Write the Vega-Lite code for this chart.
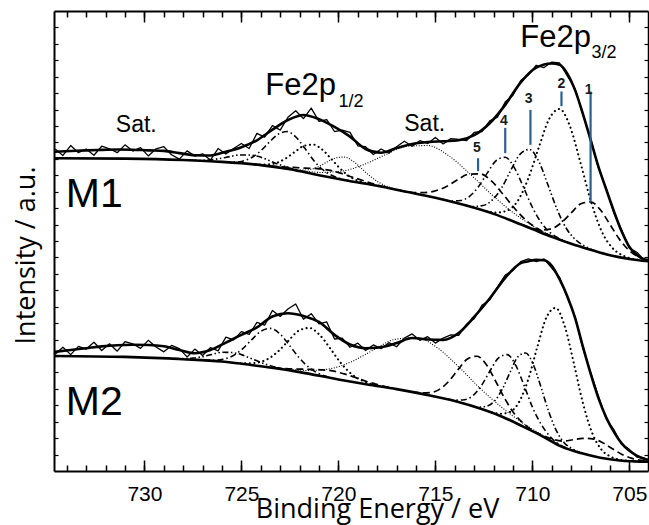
{
  "$schema": "https://vega.github.io/schema/vega-lite/v6.json",
  "width": 594,
  "height": 460,
  "autosize": {"type": "none"},
  "padding": {"left": 54, "top": 11, "right": 1, "bottom": 54},
  "background": "white",
  "config": {
    "view": {"stroke": null},
    "axis": {"grid": false, "domainColor": "black", "tickColor": "black", "labelColor": "black", "titleColor": "black"}
  },
  "datasets": {
    "raw": [
      {"s":"M1","E":734.6,"I":70.0},{"s":"M1","E":734.2,"I":68.6},{"s":"M1","E":733.8,"I":70.75},{"s":"M1","E":733.4,"I":69.2},{"s":"M1","E":733.0,"I":70.0},{"s":"M1","E":732.6,"I":68.65},{"s":"M1","E":732.2,"I":70.6},{"s":"M1","E":731.8,"I":70.05},{"s":"M1","E":731.4,"I":69.2},{"s":"M1","E":731.0,"I":70.9},{"s":"M1","E":730.6,"I":69.55},{"s":"M1","E":730.2,"I":70.3},{"s":"M1","E":729.8,"I":68.5},{"s":"M1","E":729.4,"I":70.05},{"s":"M1","E":729.0,"I":70.5},{"s":"M1","E":728.6,"I":68.75},{"s":"M1","E":728.2,"I":67.8},{"s":"M1","E":727.8,"I":69.6},{"s":"M1","E":727.4,"I":68.45},{"s":"M1","E":727.0,"I":68.95},{"s":"M1","E":726.6,"I":67.6},{"s":"M1","E":726.2,"I":70.1},{"s":"M1","E":725.8,"I":68.9},{"s":"M1","E":725.4,"I":70.1},{"s":"M1","E":725.0,"I":71.2},{"s":"M1","E":724.6,"I":70.1},{"s":"M1","E":724.2,"I":73.4},{"s":"M1","E":723.8,"I":72.6},{"s":"M1","E":723.4,"I":75.1},{"s":"M1","E":723.0,"I":74.1},{"s":"M1","E":722.6,"I":76.9},{"s":"M1","E":722.2,"I":78.3},{"s":"M1","E":721.8,"I":76.6},{"s":"M1","E":721.4,"I":78.9},{"s":"M1","E":721.0,"I":76.0},{"s":"M1","E":720.6,"I":76.4},{"s":"M1","E":720.2,"I":73.8},{"s":"M1","E":719.8,"I":74.1},{"s":"M1","E":719.4,"I":73.6},{"s":"M1","E":719.0,"I":70.7},{"s":"M1","E":718.6,"I":70.5},{"s":"M1","E":718.2,"I":68.8},{"s":"M1","E":717.8,"I":70.0},{"s":"M1","E":717.4,"I":69.1},{"s":"M1","E":717.0,"I":70.5},{"s":"M1","E":716.6,"I":71.7},{"s":"M1","E":716.2,"I":70.6},{"s":"M1","E":715.8,"I":71.8},{"s":"M1","E":715.4,"I":71.2},{"s":"M1","E":715.0,"I":72.5},{"s":"M1","E":714.6,"I":71.1},{"s":"M1","E":714.2,"I":72.25},{"s":"M1","E":713.8,"I":72.1},{"s":"M1","E":713.4,"I":71.8},{"s":"M1","E":713.0,"I":73.6},{"s":"M1","E":712.6,"I":73.8},{"s":"M1","E":712.2,"I":76.1},{"s":"M1","E":711.8,"I":76.9},{"s":"M1","E":711.4,"I":80.2},{"s":"M1","E":711.0,"I":81.7},{"s":"M1","E":710.6,"I":84.9},{"s":"M1","E":710.2,"I":86.1},{"s":"M1","E":709.8,"I":88.2},{"s":"M1","E":709.4,"I":87.7},{"s":"M1","E":709.0,"I":88.9},{"s":"M1","E":708.6,"I":88.7},{"s":"M1","E":708.2,"I":85.9},{"s":"M1","E":707.8,"I":83.1},{"s":"M1","E":707.4,"I":77.5},{"s":"M1","E":707.0,"I":72.4},{"s":"M1","E":706.6,"I":65.9},{"s":"M1","E":706.2,"I":61.5},{"s":"M1","E":705.8,"I":56.1},{"s":"M1","E":705.4,"I":52.4},{"s":"M1","E":705.0,"I":48.5},{"s":"M1","E":704.6,"I":47.5},{"s":"M1","E":704.2,"I":45.7},
      {"s":"M2","E":734.6,"I":25.4},{"s":"M2","E":734.2,"I":26.9},{"s":"M2","E":733.8,"I":25.3},{"s":"M2","E":733.4,"I":27.1},{"s":"M2","E":733.0,"I":26.5},{"s":"M2","E":732.6,"I":28.0},{"s":"M2","E":732.2,"I":26.2},{"s":"M2","E":731.8,"I":27.65},{"s":"M2","E":731.4,"I":26.05},{"s":"M2","E":731.0,"I":28.1},{"s":"M2","E":730.6,"I":27.65},{"s":"M2","E":730.2,"I":26.65},{"s":"M2","E":729.8,"I":28.4},{"s":"M2","E":729.4,"I":26.95},{"s":"M2","E":729.0,"I":25.9},{"s":"M2","E":728.6,"I":27.3},{"s":"M2","E":728.2,"I":26.6},{"s":"M2","E":727.8,"I":24.8},{"s":"M2","E":727.4,"I":26.5},{"s":"M2","E":727.0,"I":25.1},{"s":"M2","E":726.6,"I":26.8},{"s":"M2","E":726.2,"I":26.1},{"s":"M2","E":725.8,"I":29.1},{"s":"M2","E":725.4,"I":28.5},{"s":"M2","E":725.0,"I":30.3},{"s":"M2","E":724.6,"I":29.7},{"s":"M2","E":724.2,"I":32.3},{"s":"M2","E":723.8,"I":31.7},{"s":"M2","E":723.4,"I":34.9},{"s":"M2","E":723.0,"I":33.6},{"s":"M2","E":722.6,"I":35.2},{"s":"M2","E":722.2,"I":36.3},{"s":"M2","E":721.8,"I":33.0},{"s":"M2","E":721.4,"I":34.2},{"s":"M2","E":721.0,"I":32.0},{"s":"M2","E":720.6,"I":32.4},{"s":"M2","E":720.2,"I":28.7},{"s":"M2","E":719.8,"I":28.9},{"s":"M2","E":719.4,"I":26.9},{"s":"M2","E":719.0,"I":27.8},{"s":"M2","E":718.6,"I":26.2},{"s":"M2","E":718.2,"I":27.4},{"s":"M2","E":717.8,"I":26.6},{"s":"M2","E":717.4,"I":27.9},{"s":"M2","E":717.0,"I":27.0},{"s":"M2","E":716.6,"I":28.9},{"s":"M2","E":716.2,"I":29.8},{"s":"M2","E":715.8,"I":28.4},{"s":"M2","E":715.4,"I":29.2},{"s":"M2","E":715.0,"I":27.8},{"s":"M2","E":714.6,"I":28.9},{"s":"M2","E":714.2,"I":29.6},{"s":"M2","E":713.8,"I":29.5},{"s":"M2","E":713.4,"I":31.9},{"s":"M2","E":713.0,"I":33.1},{"s":"M2","E":712.6,"I":36.0},{"s":"M2","E":712.2,"I":37.2},{"s":"M2","E":711.8,"I":40.0},{"s":"M2","E":711.4,"I":42.6},{"s":"M2","E":711.0,"I":43.6},{"s":"M2","E":710.6,"I":45.5},{"s":"M2","E":710.2,"I":46.1},{"s":"M2","E":709.8,"I":45.5},{"s":"M2","E":709.4,"I":46.1},{"s":"M2","E":709.0,"I":44.1},{"s":"M2","E":708.6,"I":42.1},{"s":"M2","E":708.2,"I":37.7},{"s":"M2","E":707.8,"I":33.6},{"s":"M2","E":707.4,"I":26.7},{"s":"M2","E":707.0,"I":21.5},{"s":"M2","E":706.6,"I":16.3},{"s":"M2","E":706.2,"I":11.4},{"s":"M2","E":705.8,"I":9.0},{"s":"M2","E":705.4,"I":5.8},{"s":"M2","E":705.0,"I":4.7},{"s":"M2","E":704.6,"I":3.0},{"s":"M2","E":704.2,"I":2.8}
    ],
    "fit": [
      {"id":"M1bg","E":704.04,"I":45.6},{"id":"M1bg","E":705,"I":46.1},{"id":"M1bg","E":706,"I":46.9},{"id":"M1bg","E":707,"I":48.1},{"id":"M1bg","E":708,"I":49.4},{"id":"M1bg","E":709,"I":50.9},{"id":"M1bg","E":710,"I":52.6},{"id":"M1bg","E":711,"I":54.3},{"id":"M1bg","E":712,"I":55.9},{"id":"M1bg","E":713.5,"I":57.8},{"id":"M1bg","E":715,"I":59.4},{"id":"M1bg","E":716.5,"I":60.7},{"id":"M1bg","E":718,"I":62.0},{"id":"M1bg","E":719.5,"I":63.1},{"id":"M1bg","E":721,"I":64.3},{"id":"M1bg","E":722.5,"I":65.6},{"id":"M1bg","E":724,"I":66.5},{"id":"M1bg","E":726,"I":67.2},{"id":"M1bg","E":728,"I":67.6},{"id":"M1bg","E":731,"I":67.9},{"id":"M1bg","E":734.66,"I":68.0},
      {"id":"M2bg","E":704.04,"I":2.0},{"id":"M2bg","E":705.5,"I":2.3},{"id":"M2bg","E":706.5,"I":2.9},{"id":"M2bg","E":707.5,"I":3.9},{"id":"M2bg","E":708.5,"I":5.3},{"id":"M2bg","E":709.5,"I":7.6},{"id":"M2bg","E":710.5,"I":9.7},{"id":"M2bg","E":711.5,"I":11.7},{"id":"M2bg","E":712.5,"I":13.3},{"id":"M2bg","E":714,"I":15.2},{"id":"M2bg","E":715.5,"I":16.6},{"id":"M2bg","E":717,"I":17.8},{"id":"M2bg","E":718.5,"I":18.8},{"id":"M2bg","E":720,"I":19.9},{"id":"M2bg","E":722,"I":21.5},{"id":"M2bg","E":723,"I":22.2},{"id":"M2bg","E":724.4,"I":23.0},{"id":"M2bg","E":726,"I":23.8},{"id":"M2bg","E":728,"I":24.3},{"id":"M2bg","E":731,"I":24.8},{"id":"M2bg","E":734.66,"I":25.0},
      {"id":"M1env","E":734.66,"I":69.4},{"id":"M1env","E":733.8,"I":69.55},{"id":"M1env","E":733.0,"I":69.7},{"id":"M1env","E":732.2,"I":69.8},{"id":"M1env","E":731.4,"I":69.9},{"id":"M1env","E":730.6,"I":69.85},{"id":"M1env","E":729.8,"I":69.7},{"id":"M1env","E":729.0,"I":69.6},{"id":"M1env","E":728.2,"I":69.1},{"id":"M1env","E":727.4,"I":68.65},{"id":"M1env","E":726.6,"I":68.6},{"id":"M1env","E":725.8,"I":69.4},{"id":"M1env","E":725.0,"I":70.4},{"id":"M1env","E":724.2,"I":71.9},{"id":"M1env","E":723.4,"I":74.2},{"id":"M1env","E":722.6,"I":76.3},{"id":"M1env","E":721.8,"I":77.4},{"id":"M1env","E":721.0,"I":76.5},{"id":"M1env","E":720.2,"I":74.8},{"id":"M1env","E":719.4,"I":72.7},{"id":"M1env","E":718.6,"I":70.0},{"id":"M1env","E":717.8,"I":69.2},{"id":"M1env","E":717.0,"I":70.2},{"id":"M1env","E":716.2,"I":71.1},{"id":"M1env","E":715.4,"I":71.5},{"id":"M1env","E":714.6,"I":71.7},{"id":"M1env","E":713.8,"I":71.9},{"id":"M1env","E":713.0,"I":73.0},{"id":"M1env","E":712.2,"I":75.6},{"id":"M1env","E":711.4,"I":79.6},{"id":"M1env","E":710.6,"I":84.5},{"id":"M1env","E":709.8,"I":87.7},{"id":"M1env","E":709.0,"I":88.6},{"id":"M1env","E":708.6,"I":88.3},{"id":"M1env","E":708.2,"I":86.4},{"id":"M1env","E":707.8,"I":82.8},{"id":"M1env","E":707.4,"I":77.7},{"id":"M1env","E":707.0,"I":72.0},{"id":"M1env","E":706.6,"I":66.2},{"id":"M1env","E":706.2,"I":61.3},{"id":"M1env","E":705.8,"I":56.5},{"id":"M1env","E":705.4,"I":52.1},{"id":"M1env","E":705.0,"I":48.7},{"id":"M1env","E":704.6,"I":46.9},{"id":"M1env","E":704.2,"I":46.0},{"id":"M1env","E":704.04,"I":45.9},
      {"id":"M2env","E":734.66,"I":25.9},{"id":"M2env","E":733.8,"I":26.3},{"id":"M2env","E":733.0,"I":26.7},{"id":"M2env","E":732.2,"I":27.1},{"id":"M2env","E":731.4,"I":27.35},{"id":"M2env","E":730.6,"I":27.45},{"id":"M2env","E":729.8,"I":27.4},{"id":"M2env","E":729.0,"I":27.1},{"id":"M2env","E":728.2,"I":26.3},{"id":"M2env","E":727.4,"I":25.6},{"id":"M2env","E":726.6,"I":26.3},{"id":"M2env","E":725.8,"I":27.9},{"id":"M2env","E":725.0,"I":29.6},{"id":"M2env","E":724.2,"I":31.2},{"id":"M2env","E":723.4,"I":33.6},{"id":"M2env","E":722.6,"I":34.3},{"id":"M2env","E":721.8,"I":33.7},{"id":"M2env","E":721.0,"I":32.4},{"id":"M2env","E":720.2,"I":29.6},{"id":"M2env","E":719.4,"I":27.5},{"id":"M2env","E":718.6,"I":26.7},{"id":"M2env","E":717.8,"I":26.9},{"id":"M2env","E":717.0,"I":27.8},{"id":"M2env","E":716.2,"I":28.9},{"id":"M2env","E":715.4,"I":28.6},{"id":"M2env","E":714.6,"I":28.5},{"id":"M2env","E":713.8,"I":30.0},{"id":"M2env","E":713.0,"I":33.5},{"id":"M2env","E":712.2,"I":37.5},{"id":"M2env","E":711.4,"I":42.0},{"id":"M2env","E":710.6,"I":45.2},{"id":"M2env","E":710.2,"I":45.6},{"id":"M2env","E":709.8,"I":45.9},{"id":"M2env","E":709.4,"I":45.8},{"id":"M2env","E":709.0,"I":44.6},{"id":"M2env","E":708.6,"I":41.7},{"id":"M2env","E":708.2,"I":38.0},{"id":"M2env","E":707.8,"I":33.3},{"id":"M2env","E":707.4,"I":27.1},{"id":"M2env","E":707.0,"I":21.2},{"id":"M2env","E":706.6,"I":15.9},{"id":"M2env","E":706.2,"I":11.7},{"id":"M2env","E":705.8,"I":8.5},{"id":"M2env","E":705.4,"I":6.0},{"id":"M2env","E":705.0,"I":4.4},{"id":"M2env","E":704.6,"I":3.3},{"id":"M2env","E":704.2,"I":2.6},{"id":"M2env","E":704.04,"I":2.4}
    ],
    "comp": [
      {"id":"m1c1","st":"longdash","E":704.04,"I":45.8},{"id":"m1c1","st":"longdash","E":704.5,"I":46.5},{"id":"m1c1","st":"longdash","E":705,"I":47.9},{"id":"m1c1","st":"longdash","E":705.5,"I":50.3},{"id":"m1c1","st":"longdash","E":706,"I":53.6},{"id":"m1c1","st":"longdash","E":706.5,"I":56.8},{"id":"m1c1","st":"longdash","E":707,"I":58.5},{"id":"m1c1","st":"longdash","E":707.5,"I":58.1},{"id":"m1c1","st":"longdash","E":708,"I":56.1},{"id":"m1c1","st":"longdash","E":708.5,"I":54.0},{"id":"m1c1","st":"longdash","E":709,"I":52.7},{"id":"m1c1","st":"longdash","E":709.5,"I":52.4},{"id":"m1c1","st":"longdash","E":710,"I":52.8},{"id":"m1c1","st":"longdash","E":710.5,"I":53.5},
      {"id":"m1c2","st":"dot","E":704.28,"I":45.75},{"id":"m1c2","st":"dot","E":704.82,"I":46.1},{"id":"m1c2","st":"dot","E":705.36,"I":46.9},{"id":"m1c2","st":"dot","E":705.9,"I":48.6},{"id":"m1c2","st":"dot","E":706.44,"I":52.2},{"id":"m1c2","st":"dot","E":706.98,"I":58.6},{"id":"m1c2","st":"dot","E":707.52,"I":67.0},{"id":"m1c2","st":"dot","E":708.06,"I":74.9},{"id":"m1c2","st":"dot","E":708.6,"I":78.7},{"id":"m1c2","st":"dot","E":709.14,"I":76.5},{"id":"m1c2","st":"dot","E":709.68,"I":70.2},{"id":"m1c2","st":"dot","E":710.22,"I":63.5},{"id":"m1c2","st":"dot","E":710.76,"I":58.7},{"id":"m1c2","st":"dot","E":711.3,"I":56.6},{"id":"m1c2","st":"dot","E":711.84,"I":56.2},{"id":"m1c2","st":"dot","E":712.38,"I":56.5},
      {"id":"m1c3","st":"dashdotdot","E":706.79,"I":47.9},{"id":"m1c3","st":"dashdotdot","E":707.27,"I":48.8},{"id":"m1c3","st":"dashdotdot","E":707.75,"I":50.2},{"id":"m1c3","st":"dashdotdot","E":708.23,"I":52.6},{"id":"m1c3","st":"dashdotdot","E":708.71,"I":56.7},{"id":"m1c3","st":"dashdotdot","E":709.19,"I":62.1},{"id":"m1c3","st":"dashdotdot","E":709.67,"I":67.3},{"id":"m1c3","st":"dashdotdot","E":710.15,"I":69.9},{"id":"m1c3","st":"dashdotdot","E":710.63,"I":68.9},{"id":"m1c3","st":"dashdotdot","E":711.11,"I":65.4},{"id":"m1c3","st":"dashdotdot","E":711.59,"I":61.5},{"id":"m1c3","st":"dashdotdot","E":712.07,"I":58.9},{"id":"m1c3","st":"dashdotdot","E":712.55,"I":57.7},{"id":"m1c3","st":"dashdotdot","E":713.03,"I":57.5},{"id":"m1c3","st":"dashdotdot","E":713.51,"I":57.9},
      {"id":"m1c4","st":"dashdot","E":708.18,"I":49.7},{"id":"m1c4","st":"dashdot","E":708.64,"I":50.6},{"id":"m1c4","st":"dashdot","E":709.1,"I":51.9},{"id":"m1c4","st":"dashdot","E":709.56,"I":54.1},{"id":"m1c4","st":"dashdot","E":710.02,"I":57.5},{"id":"m1c4","st":"dashdot","E":710.48,"I":61.9},{"id":"m1c4","st":"dashdot","E":710.94,"I":66.0},{"id":"m1c4","st":"dashdot","E":711.4,"I":68.2},{"id":"m1c4","st":"dashdot","E":711.86,"I":67.5},{"id":"m1c4","st":"dashdot","E":712.32,"I":64.8},{"id":"m1c4","st":"dashdot","E":712.78,"I":61.8},{"id":"m1c4","st":"dashdot","E":713.24,"I":59.7},{"id":"m1c4","st":"dashdot","E":713.7,"I":58.8},{"id":"m1c4","st":"dashdot","E":714.16,"I":58.7},{"id":"m1c4","st":"dashdot","E":714.62,"I":59.1},
      {"id":"m1c5","st":"longdash","E":708.5,"I":50.2},{"id":"m1c5","st":"longdash","E":709.1,"I":51.2},{"id":"m1c5","st":"longdash","E":709.7,"I":52.6},{"id":"m1c5","st":"longdash","E":710.3,"I":54.4},{"id":"m1c5","st":"longdash","E":710.9,"I":57.0},{"id":"m1c5","st":"longdash","E":711.5,"I":60.1},{"id":"m1c5","st":"longdash","E":712.1,"I":63.0},{"id":"m1c5","st":"longdash","E":712.7,"I":64.6},{"id":"m1c5","st":"longdash","E":713.3,"I":64.5},{"id":"m1c5","st":"longdash","E":713.9,"I":63.2},{"id":"m1c5","st":"longdash","E":714.5,"I":61.7},{"id":"m1c5","st":"longdash","E":715.1,"I":60.8},{"id":"m1c5","st":"longdash","E":715.7,"I":60.5},{"id":"m1c5","st":"longdash","E":716.3,"I":60.6},{"id":"m1c5","st":"longdash","E":716.9,"I":61.1},
      {"id":"m1sat","st":"finedot","E":707.7,"I":49.05},{"id":"m1sat","st":"finedot","E":708.8,"I":50.8},{"id":"m1sat","st":"finedot","E":709.9,"I":53.1},{"id":"m1sat","st":"finedot","E":711.0,"I":56.2},{"id":"m1sat","st":"finedot","E":712.1,"I":60.1},{"id":"m1sat","st":"finedot","E":713.2,"I":64.5},{"id":"m1sat","st":"finedot","E":714.3,"I":68.5},{"id":"m1sat","st":"finedot","E":715.4,"I":70.75},{"id":"m1sat","st":"finedot","E":716.5,"I":70.55},{"id":"m1sat","st":"finedot","E":717.6,"I":68.7},{"id":"m1sat","st":"finedot","E":718.7,"I":66.6},{"id":"m1sat","st":"finedot","E":719.8,"I":65.2},{"id":"m1sat","st":"finedot","E":720.9,"I":64.9},{"id":"m1sat","st":"finedot","E":722.0,"I":65.35},{"id":"m1sat","st":"finedot","E":723.1,"I":66.0},
      {"id":"m1c6","st":"finedot","E":716.62,"I":60.8},{"id":"m1c6","st":"finedot","E":717.06,"I":61.3},{"id":"m1c6","st":"finedot","E":717.5,"I":61.9},{"id":"m1c6","st":"finedot","E":717.94,"I":62.8},{"id":"m1c6","st":"finedot","E":718.38,"I":64.15},{"id":"m1c6","st":"finedot","E":718.82,"I":65.8},{"id":"m1c6","st":"finedot","E":719.26,"I":67.4},{"id":"m1c6","st":"finedot","E":719.7,"I":68.25},{"id":"m1c6","st":"finedot","E":720.14,"I":68.05},{"id":"m1c6","st":"finedot","E":720.58,"I":67.2},{"id":"m1c6","st":"finedot","E":721.02,"I":66.15},{"id":"m1c6","st":"finedot","E":721.46,"I":65.55},{"id":"m1c6","st":"finedot","E":721.9,"I":65.4},{"id":"m1c6","st":"finedot","E":722.34,"I":65.55},{"id":"m1c6","st":"finedot","E":722.78,"I":65.8},
      {"id":"m1c7","st":"dashdot","E":719.43,"I":63.1},{"id":"m1c7","st":"dashdot","E":719.89,"I":63.55},{"id":"m1c7","st":"dashdot","E":720.35,"I":64.3},{"id":"m1c7","st":"dashdot","E":720.81,"I":65.5},{"id":"m1c7","st":"dashdot","E":721.27,"I":67.5},{"id":"m1c7","st":"dashdot","E":721.73,"I":70.15},{"id":"m1c7","st":"dashdot","E":722.19,"I":72.6},{"id":"m1c7","st":"dashdot","E":722.65,"I":73.8},{"id":"m1c7","st":"dashdot","E":723.11,"I":73.2},{"id":"m1c7","st":"dashdot","E":723.57,"I":71.45},{"id":"m1c7","st":"dashdot","E":724.03,"I":69.5},{"id":"m1c7","st":"dashdot","E":724.49,"I":68.1},{"id":"m1c7","st":"dashdot","E":724.95,"I":67.35},{"id":"m1c7","st":"dashdot","E":725.41,"I":67.15},{"id":"m1c7","st":"dashdot","E":725.87,"I":67.2},
      {"id":"m1c8","st":"dot","E":718.08,"I":62.1},{"id":"m1c8","st":"dot","E":718.54,"I":62.5},{"id":"m1c8","st":"dot","E":719.0,"I":63.1},{"id":"m1c8","st":"dot","E":719.46,"I":64.15},{"id":"m1c8","st":"dot","E":719.92,"I":65.8},{"id":"m1c8","st":"dot","E":720.38,"I":67.9},{"id":"m1c8","st":"dot","E":720.84,"I":69.9},{"id":"m1c8","st":"dot","E":721.3,"I":70.95},{"id":"m1c8","st":"dot","E":721.76,"I":70.7},{"id":"m1c8","st":"dot","E":722.22,"I":69.45},{"id":"m1c8","st":"dot","E":722.68,"I":68.05},{"id":"m1c8","st":"dot","E":723.14,"I":67.05},{"id":"m1c8","st":"dot","E":723.6,"I":66.65},{"id":"m1c8","st":"dot","E":724.06,"I":66.6},{"id":"m1c8","st":"dot","E":724.52,"I":66.75},
      {"id":"m1c9","st":"dashdotdot","E":722.1,"I":65.4},{"id":"m1c9","st":"dashdotdot","E":722.6,"I":66.0},{"id":"m1c9","st":"dashdotdot","E":723.1,"I":66.7},{"id":"m1c9","st":"dashdotdot","E":723.6,"I":67.55},{"id":"m1c9","st":"dashdotdot","E":724.1,"I":68.35},{"id":"m1c9","st":"dashdotdot","E":724.6,"I":68.7},{"id":"m1c9","st":"dashdotdot","E":725.1,"I":68.7},{"id":"m1c9","st":"dashdotdot","E":725.6,"I":68.35},{"id":"m1c9","st":"dashdotdot","E":726.1,"I":67.95},{"id":"m1c9","st":"dashdotdot","E":726.6,"I":67.65},{"id":"m1c9","st":"dashdotdot","E":727.1,"I":67.5},{"id":"m1c9","st":"dashdotdot","E":727.6,"I":67.55},
      {"id":"m1c10","st":"longdash","E":717.5,"I":61.65},{"id":"m1c10","st":"longdash","E":718.1,"I":62.3},{"id":"m1c10","st":"longdash","E":718.7,"I":63.1},{"id":"m1c10","st":"longdash","E":719.3,"I":63.9},{"id":"m1c10","st":"longdash","E":719.9,"I":64.75},{"id":"m1c10","st":"longdash","E":720.5,"I":65.4},{"id":"m1c10","st":"longdash","E":721.1,"I":65.75},{"id":"m1c10","st":"longdash","E":721.7,"I":65.85},{"id":"m1c10","st":"longdash","E":722.3,"I":66.0},{"id":"m1c10","st":"longdash","E":722.9,"I":66.1},{"id":"m1c10","st":"longdash","E":723.5,"I":66.3},
      {"id":"m2c1","st":"longdash","E":704.04,"I":2.1},{"id":"m2c1","st":"longdash","E":704.4,"I":2.3},{"id":"m2c1","st":"longdash","E":704.9,"I":2.8},{"id":"m2c1","st":"longdash","E":705.4,"I":3.65},{"id":"m2c1","st":"longdash","E":705.9,"I":4.9},{"id":"m2c1","st":"longdash","E":706.4,"I":6.2},{"id":"m2c1","st":"longdash","E":706.9,"I":7.0},{"id":"m2c1","st":"longdash","E":707.4,"I":7.1},{"id":"m2c1","st":"longdash","E":707.9,"I":6.8},{"id":"m2c1","st":"longdash","E":708.4,"I":6.5},{"id":"m2c1","st":"longdash","E":708.9,"I":6.85},{"id":"m2c1","st":"longdash","E":709.4,"I":7.6},{"id":"m2c1","st":"longdash","E":709.9,"I":8.5},{"id":"m2c1","st":"longdash","E":710.4,"I":9.5},
      {"id":"m2c2","st":"dot","E":704.6,"I":2.1},{"id":"m2c2","st":"dot","E":705.05,"I":2.2},{"id":"m2c2","st":"dot","E":705.51,"I":2.45},{"id":"m2c2","st":"dot","E":705.98,"I":3.15},{"id":"m2c2","st":"dot","E":706.45,"I":4.7},{"id":"m2c2","st":"dot","E":706.92,"I":8.3},{"id":"m2c2","st":"dot","E":707.39,"I":14.7},{"id":"m2c2","st":"dot","E":707.86,"I":23.35},{"id":"m2c2","st":"dot","E":708.33,"I":31.45},{"id":"m2c2","st":"dot","E":708.8,"I":35.45},{"id":"m2c2","st":"dot","E":709.27,"I":33.45},{"id":"m2c2","st":"dot","E":709.74,"I":27.05},{"id":"m2c2","st":"dot","E":710.21,"I":19.95},{"id":"m2c2","st":"dot","E":710.68,"I":15.05},{"id":"m2c2","st":"dot","E":711.15,"I":12.85},{"id":"m2c2","st":"dot","E":711.62,"I":12.45},{"id":"m2c2","st":"dot","E":712.09,"I":12.75},
      {"id":"m2c3","st":"dashdotdot","E":707.55,"I":4.0},{"id":"m2c3","st":"dashdotdot","E":707.95,"I":4.85},{"id":"m2c3","st":"dashdotdot","E":708.35,"I":6.1},{"id":"m2c3","st":"dashdotdot","E":708.75,"I":8.65},{"id":"m2c3","st":"dashdotdot","E":709.15,"I":12.8},{"id":"m2c3","st":"dashdotdot","E":709.55,"I":18.15},{"id":"m2c3","st":"dashdotdot","E":709.95,"I":23.1},{"id":"m2c3","st":"dashdotdot","E":710.35,"I":25.65},{"id":"m2c3","st":"dashdotdot","E":710.75,"I":24.8},{"id":"m2c3","st":"dashdotdot","E":711.15,"I":21.45},{"id":"m2c3","st":"dashdotdot","E":711.55,"I":17.8},{"id":"m2c3","st":"dashdotdot","E":711.95,"I":15.2},{"id":"m2c3","st":"dashdotdot","E":712.35,"I":14.1},{"id":"m2c3","st":"dashdotdot","E":712.75,"I":13.9},{"id":"m2c3","st":"dashdotdot","E":713.15,"I":14.2},
      {"id":"m2c4","st":"dashdot","E":708.22,"I":4.95},{"id":"m2c4","st":"dashdot","E":708.66,"I":5.9},{"id":"m2c4","st":"dashdot","E":709.1,"I":7.55},{"id":"m2c4","st":"dashdot","E":709.54,"I":10.1},{"id":"m2c4","st":"dashdot","E":709.98,"I":13.7},{"id":"m2c4","st":"dashdot","E":710.42,"I":18.5},{"id":"m2c4","st":"dashdot","E":710.86,"I":23.0},{"id":"m2c4","st":"dashdot","E":711.3,"I":25.3},{"id":"m2c4","st":"dashdot","E":711.74,"I":24.6},{"id":"m2c4","st":"dashdot","E":712.18,"I":21.8},{"id":"m2c4","st":"dashdot","E":712.62,"I":18.6},{"id":"m2c4","st":"dashdot","E":713.06,"I":16.4},{"id":"m2c4","st":"dashdot","E":713.5,"I":15.5},{"id":"m2c4","st":"dashdot","E":713.94,"I":15.4},{"id":"m2c4","st":"dashdot","E":714.38,"I":15.65},
      {"id":"m2c5","st":"longdash","E":709.49,"I":7.65},{"id":"m2c5","st":"longdash","E":709.97,"I":8.75},{"id":"m2c5","st":"longdash","E":710.45,"I":10.3},{"id":"m2c5","st":"longdash","E":710.93,"I":12.45},{"id":"m2c5","st":"longdash","E":711.41,"I":15.65},{"id":"m2c5","st":"longdash","E":711.89,"I":19.5},{"id":"m2c5","st":"longdash","E":712.37,"I":23.1},{"id":"m2c5","st":"longdash","E":712.85,"I":24.95},{"id":"m2c5","st":"longdash","E":713.33,"I":24.4},{"id":"m2c5","st":"longdash","E":713.81,"I":22.15},{"id":"m2c5","st":"longdash","E":714.29,"I":19.6},{"id":"m2c5","st":"longdash","E":714.77,"I":17.8},{"id":"m2c5","st":"longdash","E":715.25,"I":17.05},{"id":"m2c5","st":"longdash","E":715.73,"I":17.0},{"id":"m2c5","st":"longdash","E":716.21,"I":17.2},
      {"id":"m2sat","st":"finedot","E":708.3,"I":5.05},{"id":"m2sat","st":"finedot","E":709.4,"I":7.6},{"id":"m2sat","st":"finedot","E":710.5,"I":10.45},{"id":"m2sat","st":"finedot","E":711.6,"I":13.9},{"id":"m2sat","st":"finedot","E":712.7,"I":18.0},{"id":"m2sat","st":"finedot","E":713.8,"I":22.65},{"id":"m2sat","st":"finedot","E":714.9,"I":26.8},{"id":"m2sat","st":"finedot","E":716.0,"I":29.0},{"id":"m2sat","st":"finedot","E":717.1,"I":28.6},{"id":"m2sat","st":"finedot","E":718.2,"I":26.3},{"id":"m2sat","st":"finedot","E":719.3,"I":23.8},{"id":"m2sat","st":"finedot","E":720.4,"I":22.25},{"id":"m2sat","st":"finedot","E":721.5,"I":21.85},{"id":"m2sat","st":"finedot","E":722.6,"I":22.1},{"id":"m2sat","st":"finedot","E":723.7,"I":22.65},
      {"id":"m2c7","st":"dashdot","E":720.07,"I":20.0},{"id":"m2c7","st":"dashdot","E":720.56,"I":20.5},{"id":"m2c7","st":"dashdot","E":721.05,"I":21.25},{"id":"m2c7","st":"dashdot","E":721.54,"I":22.6},{"id":"m2c7","st":"dashdot","E":722.03,"I":24.65},{"id":"m2c7","st":"dashdot","E":722.52,"I":27.3},{"id":"m2c7","st":"dashdot","E":723.01,"I":29.8},{"id":"m2c7","st":"dashdot","E":723.5,"I":31.0},{"id":"m2c7","st":"dashdot","E":723.99,"I":30.4},{"id":"m2c7","st":"dashdot","E":724.48,"I":28.5},{"id":"m2c7","st":"dashdot","E":724.97,"I":26.45},{"id":"m2c7","st":"dashdot","E":725.46,"I":25.0},{"id":"m2c7","st":"dashdot","E":725.95,"I":24.3},{"id":"m2c7","st":"dashdot","E":726.44,"I":24.05},{"id":"m2c7","st":"dashdot","E":726.93,"I":24.1},
      {"id":"m2c8","st":"dot","E":717.72,"I":18.35},{"id":"m2c8","st":"dot","E":718.26,"I":18.85},{"id":"m2c8","st":"dot","E":718.8,"I":19.7},{"id":"m2c8","st":"dot","E":719.34,"I":21.15},{"id":"m2c8","st":"dot","E":719.88,"I":23.5},{"id":"m2c8","st":"dot","E":720.42,"I":26.65},{"id":"m2c8","st":"dot","E":720.96,"I":29.55},{"id":"m2c8","st":"dot","E":721.5,"I":31.1},{"id":"m2c8","st":"dot","E":722.04,"I":30.5},{"id":"m2c8","st":"dot","E":722.58,"I":28.3},{"id":"m2c8","st":"dot","E":723.12,"I":25.95},{"id":"m2c8","st":"dot","E":723.66,"I":24.3},{"id":"m2c8","st":"dot","E":724.2,"I":23.55},{"id":"m2c8","st":"dot","E":724.74,"I":23.4},{"id":"m2c8","st":"dot","E":725.28,"I":23.45},
      {"id":"m2c9","st":"dashdotdot","E":723.0,"I":22.35},{"id":"m2c9","st":"dashdotdot","E":723.5,"I":22.9},{"id":"m2c9","st":"dashdotdot","E":724.0,"I":23.6},{"id":"m2c9","st":"dashdotdot","E":724.5,"I":24.45},{"id":"m2c9","st":"dashdotdot","E":725.0,"I":25.3},{"id":"m2c9","st":"dashdotdot","E":725.5,"I":25.75},{"id":"m2c9","st":"dashdotdot","E":726.0,"I":25.8},{"id":"m2c9","st":"dashdotdot","E":726.5,"I":25.35},{"id":"m2c9","st":"dashdotdot","E":727.0,"I":24.85},{"id":"m2c9","st":"dashdotdot","E":727.5,"I":24.55},{"id":"m2c9","st":"dashdotdot","E":728.0,"I":24.45},{"id":"m2c9","st":"dashdotdot","E":728.5,"I":24.45},
      {"id":"m2c10","st":"longdash","E":717.3,"I":18.1},{"id":"m2c10","st":"longdash","E":717.9,"I":18.7},{"id":"m2c10","st":"longdash","E":718.5,"I":19.4},{"id":"m2c10","st":"longdash","E":719.1,"I":20.3},{"id":"m2c10","st":"longdash","E":719.7,"I":21.1},{"id":"m2c10","st":"longdash","E":720.3,"I":21.75},{"id":"m2c10","st":"longdash","E":720.9,"I":22.0},{"id":"m2c10","st":"longdash","E":721.5,"I":22.1},{"id":"m2c10","st":"longdash","E":722.1,"I":22.15},{"id":"m2c10","st":"longdash","E":722.7,"I":22.25},{"id":"m2c10","st":"longdash","E":723.3,"I":22.5}
    ],
    "markers": [
      {"n":"1","E":707.0,"lo":58.5,"hi":82.5},
      {"n":"2","E":708.5,"lo":79.3,"hi":82.5},
      {"n":"3","E":710.1,"lo":70.9,"hi":78.5},
      {"n":"4","E":711.4,"lo":69.1,"hi":74.6},
      {"n":"5","E":712.8,"lo":65.2,"hi":68.0}
    ],
    "labels": [
      {"t":"Sat.","E":730.42,"I":73.8,"kind":"sat"},
      {"t":"Sat.","E":715.55,"I":74.0,"kind":"sat"},
      {"t":"Fe2p","E":723.77,"I":81.7,"kind":"main"},
      {"t":"Fe2p","E":710.62,"I":92.2,"kind":"main"},
      {"t":"1/2","E":720.0,"I":79.1,"kind":"sub"},
      {"t":"3/2","E":706.95,"I":89.8,"kind":"sub"},
      {"t":"M1","E":734.05,"I":57.5,"kind":"sample"},
      {"t":"M2","E":734.05,"I":12.2,"kind":"sample"},
      {"t":"1","E":707.1,"I":81.9,"kind":"num"},
      {"t":"2","E":708.5,"I":83.3,"kind":"num"},
      {"t":"3","E":710.19,"I":79.9,"kind":"num"},
      {"t":"4","E":711.47,"I":75.2,"kind":"num"},
      {"t":"5","E":712.86,"I":69.4,"kind":"num"}
    ]
  },
  "layer": [
    {
      "data": {"name": "raw"},
      "mark": {"type": "line", "color": "black", "strokeWidth": 1.3, "strokeJoin": "round", "clip": true},
      "encoding": {
        "x": {"field": "E", "type": "quantitative",
          "scale": {"domain": [704.04, 734.66], "reverse": true, "nice": false, "zero": false},
          "axis": {"orient": "bottom", "values": [705, 710, 715, 720, 725, 730], "tickSize": -11, "tickWidth": 1.5, "domainWidth": 2,
            "labelFont": "Liberation Sans", "labelFontSize": 21, "labelPadding": 23.4, "labelFlush": false, "labelOverlap": false,
            "title": "Binding Energy / eV", "titleFont": "Open Sans", "titleFontSize": 27, "titleFontWeight": "normal",
            "titleX": 323, "titleY": 46, "titleBaseline": "alphabetic"}},
        "y": {"field": "I", "type": "quantitative",
          "scale": {"domain": [0, 100], "nice": false, "zero": false},
          "axis": {"orient": "left", "values": [3.5714, 7.1429, 10.7143, 14.2857, 17.8571, 21.4286, 25, 28.5714, 32.1429, 35.7143, 39.2857, 42.8571, 46.4286, 50, 53.5714, 57.1429, 60.7143, 64.2857, 67.8571, 71.4286, 75, 78.5714, 82.1429, 85.7143, 89.2857, 92.8571, 96.4286],
            "tickSize": -4, "tickWidth": 1.2, "labels": false, "domainWidth": 2,
            "title": "Intensity / a.u.", "titleFont": "Open Sans", "titleFontSize": 27, "titleFontWeight": "normal",
            "titleX": -20, "titleY": 244, "titleBaseline": "alphabetic", "titleAngle": -90}},
        "detail": {"field": "s"}
      }
    },
    {
      "data": {"name": "fit"},
      "mark": {"type": "line", "color": "black", "strokeWidth": 2.6, "interpolate": "monotone", "clip": true},
      "encoding": {
        "x": {"field": "E", "type": "quantitative",
          "scale": {"domain": [704.04, 734.66], "reverse": true, "nice": false, "zero": false},
          "axis": {"orient": "top", "values": [705, 710, 715, 720, 725, 730], "tickSize": -11, "tickWidth": 1.5, "domainWidth": 2, "labels": false, "title": null}},
        "y": {"field": "I", "type": "quantitative",
          "scale": {"domain": [0, 100], "nice": false, "zero": false},
          "axis": {"orient": "right", "values": [3.5714, 7.1429, 10.7143, 14.2857, 17.8571, 21.4286, 25, 28.5714, 32.1429, 35.7143, 39.2857, 42.8571, 46.4286, 50, 53.5714, 57.1429, 60.7143, 64.2857, 67.8571, 71.4286, 75, 78.5714, 82.1429, 85.7143, 89.2857, 92.8571, 96.4286],
            "tickSize": -4, "tickWidth": 1.2, "labels": false, "domainWidth": 1.5, "title": null}},
        "detail": {"field": "id"}
      }
    },
    {
      "data": {"name": "comp"},
      "transform": [{"filter": "datum.st === 'longdash'"}],
      "mark": {"type": "line", "color": "black", "strokeWidth": 1.7, "strokeDash": [7, 4], "interpolate": "monotone", "clip": true},
      "encoding": {
        "x": {"field": "E", "type": "quantitative",
          "scale": {"domain": [704.04, 734.66], "reverse": true, "nice": false, "zero": false},
          "axis": {"orient": "bottom", "values": [705, 706, 707, 708, 709, 710, 711, 712, 713, 714, 715, 716, 717, 718, 719, 720, 721, 722, 723, 724, 725, 726, 727, 728, 729, 730, 731, 732, 733, 734],
            "tickSize": -6, "tickWidth": 1.5, "labels": false, "domain": false, "title": null}},
        "y": {"field": "I", "type": "quantitative", "scale": {"domain": [0, 100], "nice": false, "zero": false}, "axis": null},
        "detail": {"field": "id"}
      }
    },
    {
      "data": {"name": "comp"},
      "transform": [{"filter": "datum.st === 'dot'"}],
      "mark": {"type": "line", "color": "black", "strokeWidth": 2.1, "strokeDash": [0.1, 4.5], "strokeCap": "round", "interpolate": "monotone", "clip": true},
      "encoding": {
        "x": {"field": "E", "type": "quantitative",
          "scale": {"domain": [704.04, 734.66], "reverse": true, "nice": false, "zero": false},
          "axis": {"orient": "top", "values": [705, 706, 707, 708, 709, 710, 711, 712, 713, 714, 715, 716, 717, 718, 719, 720, 721, 722, 723, 724, 725, 726, 727, 728, 729, 730, 731, 732, 733, 734],
            "tickSize": -6, "tickWidth": 1.5, "labels": false, "domain": false, "title": null}},
        "y": {"field": "I", "type": "quantitative", "scale": {"domain": [0, 100], "nice": false, "zero": false}, "axis": null},
        "detail": {"field": "id"}
      }
    },
    {
      "data": {"name": "comp"},
      "transform": [{"filter": "datum.st === 'dashdotdot'"}],
      "mark": {"type": "line", "color": "black", "strokeWidth": 1.6, "strokeDash": [6, 2.5, 1.5, 2.5, 1.5, 2.5], "interpolate": "monotone", "clip": true},
      "encoding": {
        "x": {"field": "E", "type": "quantitative", "scale": {"domain": [704.04, 734.66], "reverse": true, "nice": false, "zero": false}, "axis": null},
        "y": {"field": "I", "type": "quantitative", "scale": {"domain": [0, 100], "nice": false, "zero": false}, "axis": null},
        "detail": {"field": "id"}
      }
    },
    {
      "data": {"name": "comp"},
      "transform": [{"filter": "datum.st === 'dashdot'"}],
      "mark": {"type": "line", "color": "black", "strokeWidth": 1.6, "strokeDash": [6, 3, 1.5, 3], "interpolate": "monotone", "clip": true},
      "encoding": {
        "x": {"field": "E", "type": "quantitative", "scale": {"domain": [704.04, 734.66], "reverse": true, "nice": false, "zero": false}, "axis": null},
        "y": {"field": "I", "type": "quantitative", "scale": {"domain": [0, 100], "nice": false, "zero": false}, "axis": null},
        "detail": {"field": "id"}
      }
    },
    {
      "data": {"name": "comp"},
      "transform": [{"filter": "datum.st === 'finedot'"}],
      "mark": {"type": "line", "color": "black", "strokeWidth": 1.1, "strokeDash": [1, 1.6], "interpolate": "monotone", "clip": true},
      "encoding": {
        "x": {"field": "E", "type": "quantitative", "scale": {"domain": [704.04, 734.66], "reverse": true, "nice": false, "zero": false}, "axis": null},
        "y": {"field": "I", "type": "quantitative", "scale": {"domain": [0, 100], "nice": false, "zero": false}, "axis": null},
        "detail": {"field": "id"}
      }
    },
    {
      "data": {"name": "markers"},
      "mark": {"type": "rule", "color": "#2d5f8e", "strokeWidth": 2.2},
      "encoding": {
        "x": {"field": "E", "type": "quantitative", "scale": {"domain": [704.04, 734.66], "reverse": true, "nice": false, "zero": false}, "axis": null},
        "y": {"field": "lo", "type": "quantitative", "scale": {"domain": [0, 100], "nice": false, "zero": false}, "axis": null},
        "y2": {"field": "hi"}
      }
    },
    {
      "data": {"name": "labels"},
      "transform": [{"filter": "datum.kind === 'sat'"}],
      "mark": {"type": "text", "font": "Liberation Sans", "fontSize": 23, "align": "center", "baseline": "alphabetic", "color": "black"},
      "encoding": {
        "x": {"field": "E", "type": "quantitative", "scale": {"domain": [704.04, 734.66], "reverse": true, "nice": false, "zero": false}, "axis": null},
        "y": {"field": "I", "type": "quantitative", "scale": {"domain": [0, 100], "nice": false, "zero": false}, "axis": null},
        "text": {"field": "t"}
      }
    },
    {
      "data": {"name": "labels"},
      "transform": [{"filter": "datum.kind === 'main'"}],
      "mark": {"type": "text", "font": "Liberation Sans", "fontSize": 31, "align": "left", "baseline": "alphabetic", "color": "black"},
      "encoding": {
        "x": {"field": "E", "type": "quantitative", "scale": {"domain": [704.04, 734.66], "reverse": true, "nice": false, "zero": false}, "axis": null},
        "y": {"field": "I", "type": "quantitative", "scale": {"domain": [0, 100], "nice": false, "zero": false}, "axis": null},
        "text": {"field": "t"}
      }
    },
    {
      "data": {"name": "labels"},
      "transform": [{"filter": "datum.kind === 'sub'"}],
      "mark": {"type": "text", "font": "Liberation Sans", "fontSize": 18, "align": "left", "baseline": "alphabetic", "color": "black"},
      "encoding": {
        "x": {"field": "E", "type": "quantitative", "scale": {"domain": [704.04, 734.66], "reverse": true, "nice": false, "zero": false}, "axis": null},
        "y": {"field": "I", "type": "quantitative", "scale": {"domain": [0, 100], "nice": false, "zero": false}, "axis": null},
        "text": {"field": "t"}
      }
    },
    {
      "data": {"name": "labels"},
      "transform": [{"filter": "datum.kind === 'sample'"}],
      "mark": {"type": "text", "font": "Liberation Sans", "fontSize": 41, "align": "left", "baseline": "alphabetic", "color": "black"},
      "encoding": {
        "x": {"field": "E", "type": "quantitative", "scale": {"domain": [704.04, 734.66], "reverse": true, "nice": false, "zero": false}, "axis": null},
        "y": {"field": "I", "type": "quantitative", "scale": {"domain": [0, 100], "nice": false, "zero": false}, "axis": null},
        "text": {"field": "t"}
      }
    },
    {
      "data": {"name": "labels"},
      "transform": [{"filter": "datum.kind === 'num'"}],
      "mark": {"type": "text", "font": "Liberation Sans", "fontSize": 14, "fontWeight": "bold", "align": "center", "baseline": "alphabetic", "color": "#1a1a1a"},
      "encoding": {
        "x": {"field": "E", "type": "quantitative", "scale": {"domain": [704.04, 734.66], "reverse": true, "nice": false, "zero": false}, "axis": null},
        "y": {"field": "I", "type": "quantitative", "scale": {"domain": [0, 100], "nice": false, "zero": false}, "axis": null},
        "text": {"field": "t"}
      }
    }
  ],
  "resolve": {"axis": {"x": "independent", "y": "independent"}}
}
